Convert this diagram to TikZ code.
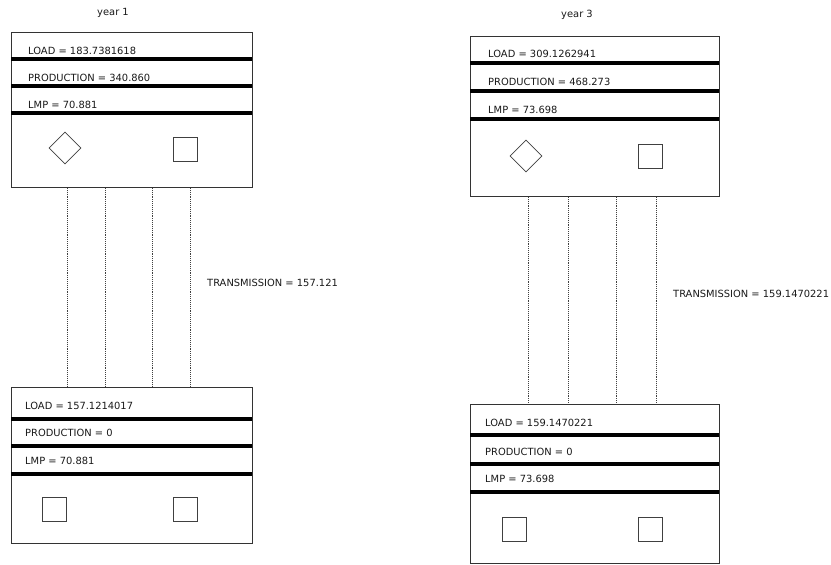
\documentclass[tikz,border=0pt]{standalone}
\usepackage{fontspec}
\setmainfont{DejaVu Sans}
\usetikzlibrary{shapes.geometric,calc}

\begin{document}
\begin{tikzpicture}[
  x=1pt, y=-1pt,
  font=\fontsize{9.9}{11}\selectfont,
  region/.style={draw=black!80, line width=0.9pt, anchor=north west, inner sep=0pt},
  sepline/.style={line width=3.2pt, black},
  val/.style={anchor=west, inner sep=0pt, text=black!90},
  ttl/.style={inner sep=0pt, text=black!90},
  gen/.style={draw=black!75, line width=0.8pt, diamond, aspect=1, inner sep=0pt,
              minimum width=32pt, minimum height=32pt},
  ld/.style={draw=black!75, line width=0.8pt, rectangle, inner sep=0pt, minimum size=24pt},
  link/.style={black!75, line width=0.9pt, densely dotted}
]
\useasboundingbox (0,0) rectangle (831,565);
% year 1 (left)
\node[ttl] (yr1) at (113,13) {year 1};
\node[region, minimum width=241pt, minimum height=155pt] (top1) at (11,32) {};
\node[val] (load1) at (28,51) {LOAD = 183.7381618};
\node[val] (prod1) at (28,78) {PRODUCTION = 340.860};
\node[val] (lmp1) at (28,105) {LMP = 70.881};
\draw[sepline] ($(top1.north west)+(0,27)$) -- ++(241,0);
\draw[sepline] ($(top1.north west)+(0,54)$) -- ++(241,0);
\draw[sepline] ($(top1.north west)+(0,81)$) -- ++(241,0);
\node[gen] (g1) at (65,148) {};
\node[ld] (d1) at (185,149) {};

\node[region, minimum width=241pt, minimum height=156pt] (bot1) at (11,387) {};
\node[val] (load2) at (25,406) {LOAD = 157.1214017};
\node[val] (prod2) at (25,433) {PRODUCTION = 0};
\node[val] (lmp2) at (25,461) {LMP = 70.881};
\draw[sepline] ($(bot1.north west)+(0,32)$) -- ++(241,0);
\draw[sepline] ($(bot1.north west)+(0,59)$) -- ++(241,0);
\draw[sepline] ($(bot1.north west)+(0,87)$) -- ++(241,0);
\node[ld] (d2) at (54,509) {};
\node[ld] (d3) at (185,509) {};

\foreach \dx in {56,94,141,179}
  \draw[link] ($(top1.south west)+(\dx,0)$) -- ($(bot1.north west)+(\dx,0)$);
\node[val] (tr1) at (207,283) {TRANSMISSION = 157.121};

% year 3 (right)
\node[ttl] (yr3) at (577,15) {year 3};
\node[region, minimum width=249pt, minimum height=160pt] (top3) at (470,36) {};
\node[val] (load3) at (488,54) {LOAD = 309.1262941};
\node[val] (prod3) at (488,82) {PRODUCTION = 468.273};
\node[val] (lmp3) at (488,110) {LMP = 73.698};
\draw[sepline] ($(top3.north west)+(0,27)$) -- ++(249,0);
\draw[sepline] ($(top3.north west)+(0,55)$) -- ++(249,0);
\draw[sepline] ($(top3.north west)+(0,83)$) -- ++(249,0);
\node[gen] (g3) at (526,156) {};
\node[ld] (d4) at (650,156) {};

\node[region, minimum width=249pt, minimum height=159pt] (bot3) at (470,404) {};
\node[val] (load4) at (485,423) {LOAD = 159.1470221};
\node[val] (prod4) at (485,452) {PRODUCTION = 0};
\node[val] (lmp4) at (485,479) {LMP = 73.698};
\draw[sepline] ($(bot3.north west)+(0,31)$) -- ++(249,0);
\draw[sepline] ($(bot3.north west)+(0,60)$) -- ++(249,0);
\draw[sepline] ($(bot3.north west)+(0,88)$) -- ++(249,0);
\node[ld] (d5) at (514,529) {};
\node[ld] (d6) at (650,529) {};

\foreach \dx in {58,98,146,186}
  \draw[link] ($(top3.south west)+(\dx,0)$) -- ($(bot3.north west)+(\dx,0)$);
\node[val] (tr3) at (673,294) {TRANSMISSION = 159.1470221};
\end{tikzpicture}
\end{document}
